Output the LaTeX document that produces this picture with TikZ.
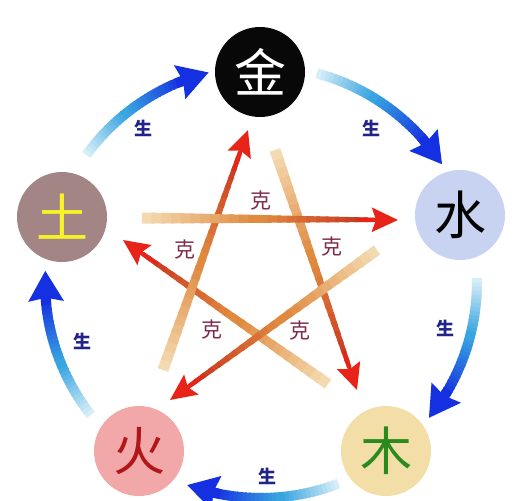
\documentclass[tikz,border=0pt]{standalone}
\usepackage{fontspec}
\newfontfamily\cjk{Noto Sans CJK SC}
\usetikzlibrary{calc,arrows.meta}
\definecolor{ketan}{HTML}{F4DAB0}
\definecolor{keor}{HTML}{E08A40}
\definecolor{kered}{HTML}{C8301C}
\definecolor{kehead}{HTML}{E82418}
\definecolor{shpale}{HTML}{D6EEF8}
\definecolor{shmid}{HTML}{38A4E0}
\definecolor{shblue}{HTML}{1430E0}
\definecolor{kelab}{HTML}{7E2A4C}
\definecolor{shlab}{HTML}{22228A}
\definecolor{jinfill}{HTML}{080808}
\definecolor{shuifill}{HTML}{C8D3F2}
\definecolor{mufill}{HTML}{F3DEA8}
\definecolor{mutext}{HTML}{2A8A1E}
\definecolor{huofill}{HTML}{F2A8A8}
\definecolor{huotext}{HTML}{B0161A}
\definecolor{tufill}{HTML}{A38585}
\definecolor{tutext}{HTML}{F6F428}
\tikzset{
  elem/.style={circle, minimum size=90pt, inner sep=0pt, font=\cjk\fontsize{52}{52}\selectfont},
  shlabel/.style={text=shlab, font=\cjk\bfseries\fontsize{18}{18}\selectfont},
  kelabel/.style={text=kelab, font=\cjk\fontsize{21}{21}\selectfont},
}
% gradient "ke" arrow: #1 tail, #2 tip
\newcommand\kearrow[2]{%
  \coordinate (kb) at ($(#2)!24pt!(#1)$);
  \foreach \i in {0,...,23}{%
    \pgfmathsetmacro\ta{\i/24}%
    \pgfmathsetmacro\tb{min((\i+1.4)/24,1)}%
    \pgfmathsetmacro\lw{11-6.5*\i/23}%
    \ifnum\i<12
      \pgfmathsetmacro\pc{100*\i/11}%
      \draw[line width=\lw pt, color=keor!\pc!ketan] ($(#1)!\ta!(kb)$) -- ($(#1)!\tb!(kb)$);
    \else
      \pgfmathsetmacro\pc{100*(\i-12)/11}%
      \draw[line width=\lw pt, color=kered!\pc!keor] ($(#1)!\ta!(kb)$) -- ($(#1)!\tb!(kb)$);
    \fi
  }%
  \draw[line width=4pt, kehead, -{Stealth[length=26pt,width=24pt,inset=4pt]}] ($(#2)!40pt!(#1)$) -- (#2);
}
% gradient "sheng" arc around (cen): #1 start angle, #2 tip angle (math angles)
\newcommand\shengarc[2]{%
  \foreach \i in {0,...,29}{%
    \pgfmathsetmacro\aa{#1+((#2+7)-(#1))*\i/30}%
    \pgfmathsetmacro\ab{#1+((#2+7)-(#1))*(\i+1.3)/30}%
    \ifnum\i<14
      \pgfmathsetmacro\pc{100*\i/13}%
      \draw[line width=10pt, color=shmid!\pc!shpale] ($(cen)+({216*cos(\aa)},{-216*sin(\aa)})$) -- ($(cen)+({216*cos(\ab)},{-216*sin(\ab)})$);
    \else
      \pgfmathsetmacro\pc{100*(\i-14)/15}%
      \draw[line width=10pt, color=shblue!\pc!shmid] ($(cen)+({216*cos(\aa)},{-216*sin(\aa)})$) -- ($(cen)+({216*cos(\ab)},{-216*sin(\ab)})$);
    \fi
  }%
  \coordinate (sa) at ($(cen)+({216*cos(#2+9)},{-216*sin(#2+9)})$);
  \coordinate (sb) at ($(cen)+({216*cos(#2)},{-216*sin(#2)})$);
  \draw[line width=10pt, shblue, -{Stealth[length=30pt,width=34pt,inset=3pt]}] (sa) -- (sb);
}
\begin{document}
\begin{tikzpicture}[x=1pt,y=-1pt]
\useasboundingbox (0,0) rectangle (526,500);
\fill[white] (0,0) rectangle (526,500);
\coordinate (cen) at (261,282);

% sheng arcs
\shengarc{144}{104}
\shengarc{75}{33}
\shengarc{1}{-39}
\shengarc{-69}{-110}
\shengarc{-142}{-183}

% ke pentagram endpoints
\coordinate (t1) at (142,218); \coordinate (h1) at (398,220);
\coordinate (t2) at (163,370); \coordinate (h2) at (248,130);
\coordinate (t3) at (275,150); \coordinate (h3) at (357,390);
\coordinate (t4) at (328,384); \coordinate (h4) at (123,240);
\coordinate (t5) at (377,250); \coordinate (h5) at (170,400);
\kearrow{t3}{h3}
\kearrow{t4}{h4}
\kearrow{t5}{h5}
\kearrow{t2}{h2}
\kearrow{t1}{h1}

% elements
\node[elem, fill=jinfill, text=white] (jin) at (260,72) {金};
\node[elem, fill=shuifill, text=black] (shui) at (460,215) {水};
\node[elem, fill=mufill, text=mutext] (mu) at (386,451) {木};
\node[elem, fill=huofill, text=huotext] (huo) at (139,451) {火};
\node[elem, fill=tufill, text=tutext] (tu) at (62,217) {土};

% labels
\node[shlabel] (s1) at (143,128) {生};
\node[shlabel] (s2) at (371,128) {生};
\node[shlabel] (s3) at (445,328) {生};
\node[shlabel] (s4) at (267,476) {生};
\node[shlabel] (s5) at (82,341) {生};
\node[kelabel] (k1) at (261,201) {克};
\node[kelabel] (k2) at (185,250) {克};
\node[kelabel] (k3) at (332,247) {克};
\node[kelabel] (k4) at (212,330) {克};
\node[kelabel] (k5) at (300,331) {克};
\end{tikzpicture}
\end{document}
